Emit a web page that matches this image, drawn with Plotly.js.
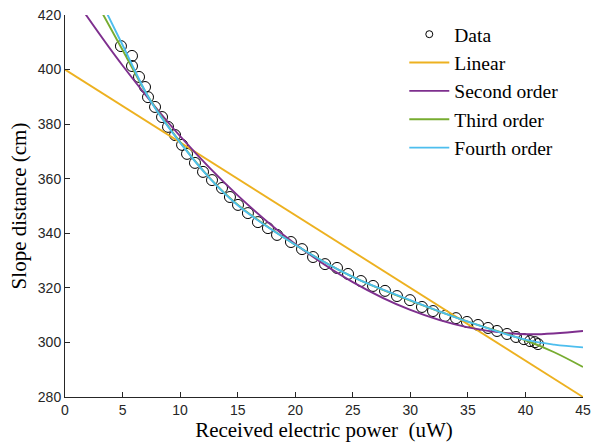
<!DOCTYPE html>
<html>
<head>
<meta charset="utf-8">
<script src="https://cdn.plot.ly/plotly-3.0.1.min.js"></script>
<style>html,body{margin:0;padding:0;background:#fff;}#chart{width:592px;height:444px;}</style>
</head>
<body>
<div id="chart"></div>
<script>
// Measured data (received power in uW, slope distance in cm)
const dataX = [4.86, 5.82, 5.82, 6.43, 6.95, 7.21, 7.82, 8.43, 8.95, 9.56, 10.17, 10.60, 11.29, 11.99, 12.77, 13.64, 14.33, 15.03, 15.89, 16.76, 17.63, 18.42, 19.63, 20.59, 21.55, 22.59, 23.63, 24.59, 25.71, 26.76, 27.80, 28.84, 29.97, 31.01, 31.97, 33.01, 33.97, 34.92, 35.88, 36.75, 37.53, 38.40, 39.18, 39.87, 40.40, 40.83, 41.09];
const dataY = [408.6, 405.0, 401.3, 397.3, 393.6, 389.9, 386.3, 382.6, 379.0, 376.0, 372.4, 369.1, 365.8, 362.5, 359.5, 356.6, 353.3, 350.4, 347.4, 344.1, 341.9, 339.4, 336.8, 334.2, 331.3, 328.7, 327.3, 325.1, 322.5, 320.7, 318.9, 317.0, 315.5, 313.0, 311.5, 309.7, 308.9, 307.5, 306.4, 305.3, 304.2, 303.1, 302.0, 301.2, 300.5, 300.1, 299.4];

// Fitted curves
const linX = [0, 45];
const linY = [400, 280];
const quadX = [1.5, 5, 10, 15, 20, 25, 30, 35, 40, 45];
const quadY = [422, 401.5, 375.6, 353.9, 336.1, 322.1, 311.9, 305.5, 303.0, 304.2];
const cubX = [3.2, 5, 7.5, 10, 12.5, 15, 20, 25, 30, 35, 40, 42.5, 45];
const cubY = [421, 407.2, 388.2, 373.4, 360.6, 350.5, 335.8, 324.0, 315.3, 307.6, 300.8, 296.4, 291.0];
const quartX = [3.6, 5, 7.5, 10, 12.5, 15, 20, 25, 30, 35, 40, 42.5, 45];
const quartY = [421, 409, 388, 373.2, 360.5, 350.3, 335.8, 324.0, 315.5, 307.6, 301.0, 299.2, 298.2];

const xTicks = [0, 5, 10, 15, 20, 25, 30, 35, 40, 45];
const yTicks = [280, 300, 320, 340, 360, 380, 400, 420];

const names = ['Data', 'Linear', 'Second order', 'Third order', 'Fourth order'];
const colors = ['#000000', '#EDB120', '#7E2F8E', '#77AC30', '#4DBEEE'];

const lw = 1.9;
const traces = [
  {x: dataX, y: dataY, mode: 'markers', type: 'scatter', showlegend: false,
   marker: {symbol: 'circle-open', size: 11, color: colors[0], line: {width: 1, color: colors[0]}}},
  {x: [null], y: [null], mode: 'markers', type: 'scatter', name: names[0],
   marker: {symbol: 'circle-open', size: 7, color: colors[0], line: {width: 1, color: colors[0]}}},
  {x: linX, y: linY, mode: 'lines', type: 'scatter', name: names[1], line: {color: colors[1], width: lw}},
  {x: quadX, y: quadY, mode: 'lines', type: 'scatter', name: names[2], line: {color: colors[2], width: lw, shape: 'spline'}},
  {x: cubX, y: cubY, mode: 'lines', type: 'scatter', name: names[3], line: {color: colors[3], width: lw, shape: 'spline'}},
  {x: quartX, y: quartY, mode: 'lines', type: 'scatter', name: names[4], line: {color: colors[4], width: lw, shape: 'spline'}}
];

const serif = 'Liberation Serif, Times New Roman, serif';
const axisCommon = {
  showgrid: false, zeroline: false, showline: true, linecolor: '#262626', linewidth: 1,
  ticks: 'inside', ticklen: 5, tickwidth: 1, tickcolor: '#262626', mirror: false,
  tickfont: {family: 'Liberation Sans, Arial, sans-serif', size: 14, color: '#262626'}
};

const layout = {
  width: 592, height: 444,
  margin: {l: 65, r: 9, t: 15, b: 47},
  paper_bgcolor: '#ffffff', plot_bgcolor: '#ffffff',
  showlegend: true,
  legend: {x: 0.655, y: 1.0, xanchor: 'left', yanchor: 'top', bgcolor: 'rgba(0,0,0,0)',
           font: {family: serif, size: 19.5, color: '#000'},
           tracegroupgap: 0, itemwidth: 40},
  xaxis: Object.assign({}, axisCommon, {
    range: [0, 45], tickvals: xTicks, ticktext: xTicks.map(String),
    title: {text: 'Received electric power \u00a0(uW)', standoff: 1,
            font: {family: serif, size: 21, color: '#000'}}
  }),
  yaxis: Object.assign({}, axisCommon, {
    range: [280, 420], tickvals: yTicks, ticktext: yTicks.map(String),
    title: {text: 'Slope distance (cm)', standoff: 5,
            font: {family: serif, size: 21, color: '#000'}}
  })
};

Plotly.newPlot('chart', traces, layout, {displayModeBar: false, staticPlot: true});
</script>
</body>
</html>
